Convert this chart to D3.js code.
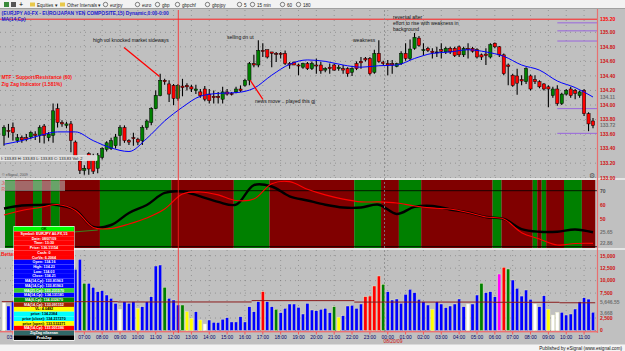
<!DOCTYPE html>
<html>
<head>
<meta charset="utf-8">
<script src="https://cdn.jsdelivr.net/npm/d3@7.9.0/dist/d3.min.js"></script>
<style>
  body { margin: 0; background: #c0c0c0; overflow: hidden; }
  svg { display: block; font-family: "Liberation Sans", Arial, sans-serif; }
</style>
</head>
<body>
<svg id="chart" width="625" height="351"></svg>
<script>
// ---- data ----
// 15 min bars, bar 0 = 02:30, bar 86 = 00:00 on 08/20/09
const candles = [ // [open, high, low, close]
  [133.58,133.72,133.44,133.69],[133.65,133.74,133.55,133.64],[133.69,133.76,133.51,133.62],[133.51,133.60,133.48,133.55],
  [133.55,133.58,133.48,133.52],[133.55,133.60,133.50,133.53],[133.56,133.64,133.53,133.62],[133.60,133.64,133.52,133.58],
  [133.58,133.72,133.48,133.69],[133.71,133.74,133.47,133.58],[133.55,133.63,133.50,133.60],[133.58,134.02,133.48,133.92],
  [133.95,134.02,133.69,133.76],[133.76,133.79,133.70,133.74],[133.72,133.77,133.68,133.74],[133.74,133.78,133.35,133.51],
  [133.49,133.51,133.26,133.28],[133.23,133.28,133.05,133.10],[133.10,133.17,133.04,133.13],[133.33,133.35,133.04,133.12],
  [133.30,133.33,133.05,133.09],[133.13,133.34,133.06,133.31],[133.28,133.42,133.25,133.40],[133.39,133.50,133.36,133.48],
  [133.40,133.55,133.38,133.51],[133.44,133.60,133.40,133.56],[133.58,133.72,133.44,133.69],[133.69,133.72,133.48,133.51],
  [133.51,133.53,133.45,133.49],[133.55,133.62,133.44,133.54],[133.53,133.55,133.45,133.49],[133.51,133.72,133.45,133.69],
  [133.69,133.80,133.66,133.78],[133.76,133.97,133.72,133.95],[133.95,134.20,133.94,134.13],[134.13,134.43,134.12,134.34],
  [134.34,134.36,134.28,134.32],[134.29,134.34,134.04,134.15],[134.27,134.29,134.00,134.09],[134.09,134.29,134.06,134.27],
  [134.26,134.36,134.12,134.24],[134.27,134.30,134.20,134.25],[134.25,134.28,134.18,134.22],[134.20,134.28,134.15,134.22],
  [134.18,134.22,134.10,134.13],[134.22,134.26,134.05,134.08],[134.15,134.22,134.02,134.06],[134.12,134.20,134.02,134.10],
  [134.12,134.18,134.02,134.10],[134.08,134.25,134.02,134.18],[134.18,134.22,134.13,134.15],[134.16,134.18,134.13,134.15],
  [134.18,134.25,134.16,134.22],[134.22,134.27,134.18,134.20],[134.27,134.36,134.25,134.34],[134.34,134.59,134.27,134.57],
  [134.57,134.69,134.52,134.55],[134.55,134.89,134.52,134.75],[134.75,134.85,134.66,134.74],[134.76,134.76,134.64,134.66],
  [134.73,134.73,134.52,134.71],[134.71,134.73,134.59,134.70],[134.71,134.73,134.64,134.70],[134.71,134.75,134.55,134.57],
  [134.57,134.59,134.50,134.55],[134.59,134.60,134.55,134.55],[134.55,134.57,134.41,134.54],[134.52,134.58,134.50,134.57],
  [134.57,134.59,134.48,134.50],[134.50,134.60,134.48,134.57],[134.55,134.64,134.43,134.54],[134.55,134.59,134.43,134.47],
  [134.48,134.52,134.45,134.50],[134.52,134.57,134.43,134.50],[134.55,134.57,134.47,134.48],[134.50,134.55,134.47,134.52],
  [134.50,134.55,134.43,134.48],[134.50,134.52,134.39,134.43],[134.45,134.52,134.40,134.50],[134.57,134.60,134.48,134.50],
  [134.60,134.66,134.50,134.58],[134.64,134.66,134.60,134.62],[134.64,134.66,134.41,134.43],[134.45,134.76,134.43,134.71],
  [134.71,134.89,134.58,134.60],[134.59,134.61,134.55,134.57],[134.57,134.62,134.41,134.55],[134.57,134.62,134.43,134.55],
  [134.53,134.58,134.52,134.57],[134.57,134.74,134.55,134.71],[134.71,134.85,134.61,134.64],[134.64,134.90,134.62,134.77],
  [134.78,134.99,134.76,134.93],[134.92,134.95,134.80,134.82],[134.75,134.85,134.68,134.76],[134.78,134.80,134.73,134.75],
  [134.74,134.78,134.64,134.72],[134.73,134.80,134.66,134.73],[134.76,134.85,134.64,134.74],[134.73,134.80,134.70,134.78],
  [134.78,134.80,134.70,134.73],[134.78,134.80,134.66,134.68],[134.80,134.82,134.66,134.69],[134.69,134.80,134.66,134.78],
  [134.78,134.85,134.64,134.76],[134.78,134.80,134.72,134.74],[134.76,134.78,134.64,134.66],[134.69,134.71,134.62,134.66],
  [134.70,134.78,134.55,134.68],[134.66,134.85,134.64,134.83],[134.85,134.86,134.78,134.80],[134.80,134.81,134.66,134.69],
  [134.69,134.71,134.41,134.43],[134.55,134.57,134.27,134.53],[134.41,134.43,134.25,134.27],[134.40,134.50,134.14,134.30],
  [134.35,134.41,134.27,134.33],[134.32,134.52,134.29,134.50],[134.40,134.42,134.20,134.22],[134.35,134.41,134.29,134.32],
  [134.32,134.34,134.23,134.25],[134.29,134.30,134.20,134.22],[134.25,134.27,133.97,134.22],[134.13,134.25,134.10,134.22],
  [134.22,134.27,133.99,134.02],[134.02,134.17,134.00,134.15],[134.15,134.22,134.13,134.20],[134.22,134.25,134.10,134.13],
  [134.20,134.22,134.08,134.16],[134.13,134.20,134.10,134.18],[134.20,134.22,133.85,133.88],[133.88,133.90,133.64,133.74],
  [133.78,133.82,133.68,133.72]
];

// MA(14) sampled every 4 bars
const maBars = [0,4,8,12,16,20,24,28,32,36,40,44,48,52,56,60,64,68,72,76,80,84,88,92,96,100,104,108,112,116,120,124,128,132];
const maValues = [133.46,133.51,133.58,133.63,133.63,133.51,133.41,133.36,133.54,133.78,133.97,134.12,134.16,134.17,134.23,134.41,
  134.56,134.62,134.60,134.55,134.52,134.54,134.55,134.64,134.71,134.73,134.76,134.73,134.67,134.55,134.48,134.33,134.24,134.11];

// MTF support / resistance levels (last hour)
const srLevels = [135.13, 135.02, 134.88, 133.95, 133.61];
const priceTicks = [133.0,133.2,133.4,133.6,133.8,134.0,134.2,134.4,134.6,134.8,135.0];

// Jurik RSX and its trailing SMA, sampled on maBars
const rsxValues = [57.3,59.4,59.8,59.8,56.2,44.1,45.5,54.1,59.8,68.4,69.4,65.9,62,60,74,73,66,63,60,58,58,60,53.4,
  58.4,59.1,56.6,54.4,51.2,49.8,42.6,40.7,40.7,42.3,40.3];
const rsxSma = [52.6,55.9,58.0,60.1,55.9,43.7,43.0,46.2,50.5,56.9,67.6,69.1,67,63,64,75,76.5,71,67,64,62,62,61.2,
  59.1,57.6,56.9,54.4,51.2,49.8,40.0,35.5,31.2,32.3,32.4];
// background state: bar where the zone starts, up (g) or down (r)
const rsxZones = [[0,'g'],[3,'r'],[7,'g'],[9,'r'],[11,'g'],[13,'r'],[22,'g'],[38,'r'],[52,'g'],[60,'r'],[79,'g'],[85,'r'],
  [89,'g'],[94,'r'],[110,'g'],[112,'r'],[119,'g'],[120,'r'],[121,'g'],[122,'r'],[126,'g'],[130,'r']];
const divergence = [[12,39.6],[21,41.9]];

// Better Volume
const volumes = [5575,4913,5780,6200,5400,4800,7200,6500,5200,4600,5900,8800,7100,6000,5300,9000,
  12272,14277,9464,9464,8662,7793,7993,7118,6451,5454,4251,5780,5454,5780,4451,4772,5780,6778,12934,13134,
  8662,6451,6116,5113,5113,3770,2446,3770,2106,1303,2106,1644,1604,2266,2573,1718,1718,2773,1718,4772,
  3770,5780,7793,5780,4772,4251,3576,4451,5314,5314,4652,3309,5454,4111,3971,4251,4451,3576,4772,2647,
  2968,4913,5053,4451,5314,6778,6911,8923,10929,9264,7793,6116,6316,5454,7258,8261,7593,6250,5780,5113,
  4251,5780,5314,4585,4913,5314,6316,4772,5314,5314,7118,9464,7593,7793,6778,11329,12672,12334,10126,8462,
  6911,8121,6250,5314,4772,6978,4251,3108,3649,3649,3108,3309,4311,5780,6577,6300,3668];
const volColors =
  'wbbbbbbbbbbbbbbbbbgbbbbbbbwbbbybbbbbgbbbgyybywbbbbbbbbbbbbrbbgbbbbbbbbbbbbgybbbbbrrrrgbbbbbbbbbbybbbbbbbwbbgbbbmrgbbbbbwbbywwbbbbbbbb';
const volAvg = [[0,26,5780],[26,56,5720],[56,79,5990],[79,110,5700],[110,125,5660],[125,133,5560]];
const volTicks = [0,2500,7500,10000,12500,15000];

// hour labels; 04:00-06:00 of the first day sit under the info window
const hourLabels = ['03:00','','','','07:00','08:00','09:00','10:00','11:00','12:00','13:00','14:00',
  '15:00','16:00','17:00','18:00','19:00','20:00','21:00','22:00','23:00','00:00','01:00','02:00','03:00','04:00',
  '05:00','06:00','07:00','08:00','09:00','10:00','11:00'];
const hourBars = hourLabels.map((d, k) => 2 + 4 * k);

const infoRows = [
  ['OK','#00ff00','#003300'],
  ['Symbol: EURJPY A0-FX,15','#ff0000','#fff'],['Date: 08/07/09','#ff0000','#fff'],['Time: 13:30','#ff0000','#fff'],
  ['Price: 136.11154','#ff0000','#fff'],['Cash: 0','#ff0000','#fff'],['CurVa: 6.2064','#ff0000','#fff'],
  ['Open: 134.16','#0000ff','#fff'],['High: 134.23','#0000ff','#fff'],['Low: 134.03','#0000ff','#fff'],
  ['Close: 134.21','#0000ff','#fff'],['MA(14,Cp): 133.81963','#0000ff','#fff'],['MA(14,Cp): 133.81963','#0000ff','#fff'],
  ['MA(21,Cp): 133.231570','#33cc33','#fff'],['MA(14,Cp): 134.131181','#0000ff','#fff'],['MA(6,Cp): 134.032670','#008800','#fff'],
  ['MA(14,Cp): 133.091152','#a02000','#fff'],['VL: 4.0482','#ffff00','#000'],['price: 134.2384','#00ffff','#000'],
  ['price (close): 134.217270','#00ffff','#000'],['price (open): 133.532271','#ffff00','#000'],
  ['MA(14,Cp): 133.001386','#ff0000','#fff'],['ZigZag nilaenan','#306868','#fff'],['PeakZap','#000000','#fff']
];

// ---- scales ----
const svg = d3.select('#chart');
const x = d3.scaleLinear().domain([0, 132]).range([4, 593]);
const yP = d3.scaleLinear().domain([133.0, 135.0]).range([177.7, 32.3]);
const yR = d3.scaleLinear().domain([30, 70]).range([246.7, 190.7]);
const yV = d3.scaleLinear().domain([0, 15000]).range([330.5, 255.7]);
const axisX = 597;

// clip regions per panel
const defs = svg.append('defs');
[['clipP', 10, 178], ['clipR', 180, 248], ['clipV', 250, 332]].forEach(([id, t, b]) => {
  defs.append('clipPath').attr('id', id).append('rect').attr('x', 0).attr('y', t).attr('width', axisX).attr('height', b - t);
});

// ---- toolbar ----
svg.append('rect').attr('width', 625).attr('height', 9).attr('fill', '#f2f2f2');
svg.append('line').attr('x1', 0).attr('x2', 625).attr('y1', 8.5).attr('y2', 8.5).attr('stroke', '#a0a0a0');
const tools = [[30, 'Equities ▾'], [60, 'Other Intervals ▾'], [103, 'eurjpy'], [135, 'euro'], [155, 'gbp'], [175, 'gbpchf'],
  [205, 'gbpjpy'], [237, '5'], [250, '15 min'], [280, '60'], [296, '180']];
svg.append('rect').attr('x', 4).attr('y', 2).attr('width', 5).attr('height', 5).attr('fill', '#3a8a3a');
svg.append('rect').attr('x', 11).attr('y', 2).attr('width', 5).attr('height', 5).attr('fill', '#555');
svg.append('text').attr('x', 19).attr('y', 7).attr('font-size', 7).text('+');
tools.forEach(([tx, t], k) => {
  if (k < 2) svg.append('rect').attr('x', tx).attr('y', 2.5).attr('width', 5).attr('height', 4).attr('fill', '#e8c84a');
  else svg.append('circle').attr('cx', tx + 2.5).attr('cy', 4.5).attr('r', 2.2).attr('fill', 'none').attr('stroke', '#333').attr('stroke-width', 0.6);
  svg.append('text').attr('x', tx + 7).attr('y', 6.6).attr('font-size', 4.6).attr('fill', '#222').text(t);
});

// ---- panels backgrounds and dividers ----
svg.append('rect').attr('x', 0).attr('y', 178).attr('width', 625).attr('height', 2).attr('fill', '#e4e4e4');
svg.append('rect').attr('x', 0).attr('y', 248).attr('width', 625).attr('height', 2).attr('fill', '#e4e4e4');

// ---- price panel ----
const gP = svg.append('g').attr('clip-path', 'url(#clipP)');
gP.selectAll('.hg').data(priceTicks).join('line')
  .attr('x1', 0).attr('x2', axisX).attr('y1', d => yP(d)).attr('y2', d => yP(d))
  .attr('stroke', '#707070').attr('stroke-width', 0.7).attr('stroke-dasharray', '0.8,4.2');
gP.selectAll('.vg').data(hourBars).join('line')
  .attr('x1', d => x(d)).attr('x2', d => x(d)).attr('y1', 10).attr('y2', 178)
  .attr('stroke', '#707070').attr('stroke-width', 0.7).attr('stroke-dasharray', '0.8,4.2');

// resistance 135.20 line
gP.append('line').attr('x1', 0).attr('x2', axisX).attr('y1', yP(135.18)).attr('y2', yP(135.18))
  .attr('stroke', '#ff2020').attr('stroke-width', 1);

// MTF support/resistance
gP.selectAll('.sr').data(srLevels).join('line')
  .attr('x1', x(124)).attr('x2', axisX).attr('y1', d => yP(d)).attr('y2', d => yP(d))
  .attr('stroke', '#9966dd').attr('stroke-width', 1);

// candles
const cg = gP.selectAll('.c').data(candles).join('g');
cg.append('line')
  .attr('x1', (d, i) => x(i)).attr('x2', (d, i) => x(i))
  .attr('y1', d => yP(d[1])).attr('y2', d => yP(d[2]))
  .attr('stroke', '#000').attr('stroke-width', 1.1);
cg.append('rect')
  .attr('x', (d, i) => x(i) - 1.6).attr('width', 3.2)
  .attr('y', d => yP(Math.max(d[0], d[3])))
  .attr('height', d => Math.max(1, Math.abs(yP(d[0]) - yP(d[3]))))
  .attr('fill', d => d[3] > d[0] ? '#008000' : d[3] < d[0] ? '#ff0000' : '#000')
  .attr('stroke', '#000').attr('stroke-width', 0.5);

// MA line
gP.append('path')
  .datum(maBars.map((b, k) => [b, maValues[k]]))
  .attr('d', d3.line().x(d => x(d[0])).y(d => yP(d[1])).curve(d3.curveMonotoneX))
  .attr('fill', 'none').attr('stroke', '#0000ff').attr('stroke-width', 1);

// status strip
svg.append('rect').attr('x', 0).attr('y', 155.5).attr('width', 97).attr('height', 5).attr('fill', '#d8d8d8')
  .attr('stroke', '#f4f4f4').attr('stroke-width', 0.6);
svg.append('text').attr('x', 1).attr('y', 159.6).attr('font-size', 4).attr('fill', '#222')
  .text('I: 133.83    H: 133.83    L: 133.83    C: 133.83    Vol: 2');
svg.append('text').attr('x', 2).attr('y', 176).attr('font-size', 3.6).attr('fill', '#555').text('© eSignal, 2009');

// titles
const title = svg.append('g').attr('font-weight', 'bold');
title.append('text').attr('x', 1.5).attr('y', 14.6).attr('font-size', 4.9).attr('fill', '#1a1ad0')
  .text('(EURJPY A0-FX - EURO/JAPAN YEN COMPOSITE,15) Dynamic,0:00-0:00');
title.append('text').attr('x', 1.5).attr('y', 20.6).attr('font-size', 4.9).attr('fill', '#1a1ad0').text('MA(14,Cp)');
title.append('text').attr('x', 1.5).attr('y', 78.5).attr('font-size', 4.9).attr('fill', '#ff1010').text('MTF - Support/Resistance (60)');
title.append('text').attr('x', 1.5).attr('y', 85.5).attr('font-size', 4.9).attr('fill', '#ff1010').text('Zig Zag Indicator (1.581%)');

// annotations
const notes = [
  [93, 42, 'high vol knocked market sideways'],
  [227, 38.5, 'selling on ut'],
  [353, 41.5, 'weakness'],
  [393, 19, 'reversal after'],
  [393, 24.8, 'effort to rise with weakness in'],
  [393, 30.5, 'background'],
  [255, 103, 'news move .. played this gj']
];
svg.append('g').selectAll('text').data(notes).join('text')
  .attr('x', d => d[0]).attr('y', d => d[1]).attr('font-size', 5).attr('fill', '#111').text(d => d[2]);
svg.append('line').attr('x1', 124).attr('y1', 47.5).attr('x2', 159.5).attr('y2', 76.5)
  .attr('stroke', '#ff0000').attr('stroke-width', 1.3);
svg.append('line').attr('x1', 250).attr('y1', 80).attr('x2', 263).attr('y2', 99.5)
  .attr('stroke', '#ff0000').attr('stroke-width', 1.3);

// ---- RSX panel ----
const gR = svg.append('g').attr('clip-path', 'url(#clipR)');
gR.selectAll('rect').data(rsxZones).join('rect')
  .attr('x', (d, k) => Math.max(5, x(d[0] - 0.5)))
  .attr('width', (d, k) => {
    const end = k + 1 < rsxZones.length ? rsxZones[k + 1][0] : 133;
    return Math.min(axisX, x(end - 0.5)) - Math.max(5, x(d[0] - 0.5));
  })
  .attr('y', 180).attr('height', 68)
  .attr('fill', d => d[1] === 'g' ? '#008000' : '#800000');
[70, 30].forEach(v => gR.append('line').attr('x1', 5).attr('x2', axisX).attr('y1', yR(v)).attr('y2', yR(v))
  .attr('stroke', '#000').attr('stroke-width', 0.8));
gR.append('path').datum(divergence)
  .attr('d', d3.line().x(d => x(d[0])).y(d => yR(d[1])))
  .attr('stroke', '#22aa22').attr('stroke-width', 0.8).attr('fill', 'none');
const rsxLine = d3.line().x(d => x(d[0])).y(d => yR(d[1])).curve(d3.curveCatmullRom);
gR.append('path').datum(maBars.map((b, k) => [b, rsxValues[k]]))
  .attr('d', rsxLine).attr('fill', 'none').attr('stroke', '#000').attr('stroke-width', 2.4);
gR.append('path').datum(maBars.map((b, k) => [b, rsxSma[k]]))
  .attr('d', rsxLine).attr('fill', 'none').attr('stroke', '#ff0000').attr('stroke-width', 1.1);
svg.append('rect').attr('x', 1).attr('y', 180.5).attr('width', 64).attr('height', 10.5).attr('fill', '#c0c0c0').attr('opacity', 0.55);
title.append('text').attr('x', 1.5).attr('y', 185).attr('font-size', 4.9).attr('fill', '#ff1010').text('Jurik RSX Divergence (14)');
title.append('text').attr('x', 1.5).attr('y', 190.5).attr('font-size', 4.9).attr('fill', '#ff1010').text('RSX + trailing SMA(4,2,0,)');

// ---- volume panel ----
const gV = svg.append('g').attr('clip-path', 'url(#clipV)');
gV.selectAll('.hg').data(volTicks).join('line')
  .attr('x1', 0).attr('x2', axisX).attr('y1', d => yV(d)).attr('y2', d => yV(d))
  .attr('stroke', '#707070').attr('stroke-width', 0.7).attr('stroke-dasharray', '0.8,4.2');
gV.selectAll('.vg').data(hourBars).join('line')
  .attr('x1', d => x(d)).attr('x2', d => x(d)).attr('y1', 250).attr('y2', 332)
  .attr('stroke', '#707070').attr('stroke-width', 0.7).attr('stroke-dasharray', '0.8,4.2');
const volColorMap = { w: '#ffffff', b: '#0000ff', g: '#008000', r: '#ff0000', y: '#ffff00', m: '#ff00ff' };
gV.selectAll('.vb').data(volumes).join('rect')
  .attr('x', (d, i) => x(i) - 1.6).attr('width', 3.2)
  .attr('y', d => yV(d)).attr('height', d => yV(0) - yV(d))
  .attr('fill', (d, i) => volColorMap[volColors[i]])
  .attr('stroke', '#f0f0c8').attr('stroke-width', 0.4);
gV.selectAll('.va').data(volAvg).join('line')
  .attr('x1', d => x(d[0] - 0.5)).attr('x2', d => x(d[1] - 0.5))
  .attr('y1', d => yV(d[2])).attr('y2', d => yV(d[2]))
  .attr('stroke', '#8b1a1a').attr('stroke-width', 1);
svg.append('line').attr('x1', 0).attr('x2', axisX).attr('y1', 331.8).attr('y2', 331.8).attr('stroke', '#ff5050').attr('stroke-width', 1);
svg.append('text').attr('x', 1).attr('y', 255.5).attr('font-size', 4.9).attr('font-weight', 'bold').attr('fill', '#ff1010').text('Better');

// ---- cursor / separators / right axis ----
svg.append('line').attr('x1', 384.5).attr('x2', 384.5).attr('y1', 10).attr('y2', 333)
  .attr('stroke', '#888').attr('stroke-width', 0.8).attr('stroke-dasharray', '2,2');
svg.append('line').attr('x1', 178.3).attr('x2', 178.3).attr('y1', 10).attr('y2', 333)
  .attr('stroke', '#ff2020').attr('stroke-width', 0.8);
svg.append('line').attr('x1', axisX + 0.5).attr('x2', axisX + 0.5).attr('y1', 9).attr('y2', 333)
  .attr('stroke', '#e87070').attr('stroke-width', 1.2);

const axisText = svg.append('g').attr('font-size', 5).attr('font-weight', 'bold');
priceTicks.forEach(p => axisText.append('text').attr('x', 600).attr('y', yP(p) + 1.8).attr('fill', '#d01010').text(p.toFixed(2)));
axisText.append('text').attr('x', 600).attr('y', yP(135.18) + 1.8).attr('fill', '#ff0000').text('135.20');
axisText.append('text').attr('x', 600).attr('y', yP(134.11) + 1.8).attr('fill', '#707070').text('134.11');
axisText.append('text').attr('x', 600).attr('y', yP(133.72) + 1.8).attr('fill', '#707070').text('133.72');
axisText.append('text').attr('x', 600).attr('y', yR(70) + 1.8).attr('fill', '#505050').text('70');
axisText.append('text').attr('x', 600).attr('y', yR(60) + 1.8).attr('fill', '#d01010').text('60');
axisText.append('text').attr('x', 600).attr('y', yR(50) + 1.8).attr('fill', '#d01010').text('50');
axisText.append('text').attr('x', 600).attr('y', yR(rsxValues[rsxValues.length - 1]) + 1.8).attr('fill', '#707070').text('25.65');
axisText.append('text').attr('x', 600).attr('y', yR(rsxSma[rsxSma.length - 1]) + 1.8).attr('fill', '#707070').text('22.86');
volTicks.forEach(v => axisText.append('text').attr('x', 600).attr('y', yV(v) + 1.8).attr('fill', '#d01010').text(d3.format(',')(v)));
axisText.append('text').attr('x', 600).attr('y', yV(5646.55) + 1.8).attr('fill', '#707070').text('5,646.55');
axisText.append('text').attr('x', 600).attr('y', yV(volumes[volumes.length - 1]) + 2.5).attr('fill', '#707070').text('3,668');
svg.append('text').attr('x', 589).attr('y', 178).attr('font-size', 7).attr('fill', '#555').text('⚙');

// ---- time axis ----
svg.selectAll('.tk').data(hourBars).join('line')
  .attr('x1', d => x(d)).attr('x2', d => x(d)).attr('y1', 332).attr('y2', 334.5)
  .attr('stroke', '#ff4040').attr('stroke-width', 0.8);
svg.append('g').selectAll('text').data(hourLabels.map((t, k) => [t, hourBars[k]]).filter(d => d[0]))
  .join('text')
  .attr('x', d => x(d[1])).attr('y', 338.6).attr('text-anchor', 'middle')
  .attr('font-size', 4.9).attr('fill', '#00006a').text(d => d[0]);
svg.append('text').attr('x', 393).attr('y', 343.2).attr('text-anchor', 'middle').attr('font-size', 4.9)
  .attr('fill', '#d01010').text('08/20/09');
svg.append('rect').attr('x', 0).attr('y', 344.5).attr('width', 625).attr('height', 6.5).attr('fill', '#f4f4f4');
svg.append('text').attr('x', 622).attr('y', 349.6).attr('text-anchor', 'end').attr('font-size', 4.6).attr('fill', '#111')
  .text('Published by eSignal (www.esignal.com)');

// ---- info window ----
const rowH = 4.72;
const info = svg.append('g');
info.append('rect').attr('x', 13.5).attr('y', 226).attr('width', 61).attr('height', infoRows.length * rowH + 1.5)
  .attr('fill', '#fff');
info.selectAll('rect.row').data(infoRows).join('rect')
  .attr('x', 14).attr('width', 60).attr('y', (d, k) => 226.7 + k * rowH).attr('height', rowH)
  .attr('fill', d => d[1]);
info.selectAll('text').data(infoRows).join('text')
  .attr('x', 44).attr('y', (d, k) => 226.7 + k * rowH + 3.5).attr('text-anchor', 'middle')
  .attr('font-size', 3.7).attr('font-weight', 'bold').attr('fill', d => d[2]).text(d => d[0]);
</script>
</body>
</html>
